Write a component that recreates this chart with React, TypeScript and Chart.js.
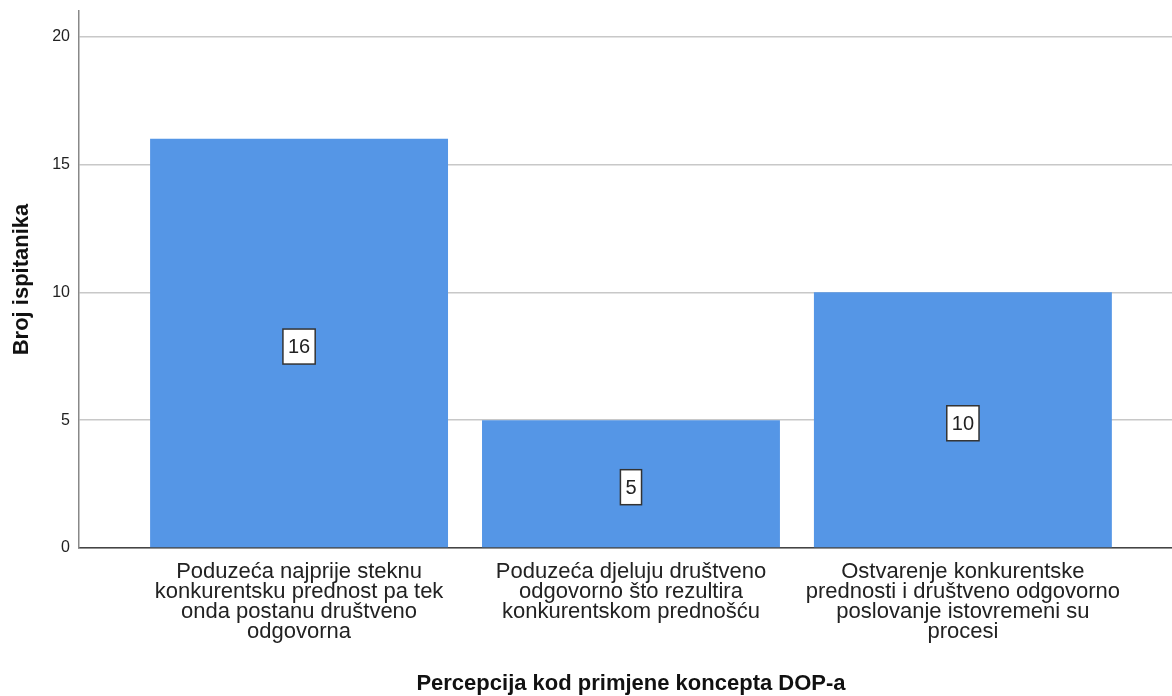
import React, { useEffect, useRef } from "react";
import { Chart, registerables } from "chart.js";

Chart.register(...registerables);

const CATEGORY_LINES: string[][] = [
  ["Poduzeća najprije steknu", "konkurentsku prednost pa tek", "onda postanu društveno", "odgovorna"],
  ["Poduzeća djeluju društveno", "odgovorno što rezultira", "konkurentskom prednošću"],
  ["Ostvarenje konkurentske", "prednosti i društveno odgovorno", "poslovanje istovremeni su", "procesi"],
];
const COUNTS: number[] = [16, 5, 10];
const Y_MAX = 21;
const Y_STEP = 5;
const X_TITLE = "Percepcija kod primjene koncepta DOP-a";
const Y_TITLE = "Broj ispitanika";

const FONT = "'Liberation Sans', Arial, sans-serif";
const BAR_COLOR = "rgb(85,150,230)";

const labelPlugin = {
  id: "valueBoxes",
  afterDatasetsDraw(chart: any) {
    const ctx = chart.ctx;
    const meta = chart.getDatasetMeta(0);
    ctx.save();
    ctx.font = `20px ${FONT}`;
    ctx.textAlign = "center";
    ctx.textBaseline = "middle";
    meta.data.forEach((el: any, i: number) => {
      const text = String(COUNTS[i]);
      const tw = ctx.measureText(text).width;
      const w = tw + 10;
      const h = 35;
      const cx = el.x;
      const cy = (el.y + el.base) / 2 + 3.5;
      ctx.fillStyle = "#ffffff";
      ctx.fillRect(cx - w / 2, cy - h / 2, w, h);
      ctx.strokeStyle = "#333333";
      ctx.lineWidth = 1.5;
      ctx.strokeRect(cx - w / 2, cy - h / 2, w, h);
      ctx.fillStyle = "#222222";
      ctx.fillText(text, cx, cy + 1);
    });
    ctx.restore();
  },
};

const titlesPlugin = {
  id: "axisTitles",
  afterDraw(chart: any) {
    const ctx = chart.ctx;
    const area = chart.chartArea;
    const xs = chart.scales.x;
    ctx.save();
    ctx.fillStyle = "#111111";
    ctx.font = `bold 22px ${FONT}`;
    ctx.textAlign = "center";
    ctx.textBaseline = "middle";
    ctx.fillText(X_TITLE, xs.getPixelForValue(1), 684);
    ctx.translate(22, (area.top + area.bottom) / 2);
    ctx.rotate(-Math.PI / 2);
    ctx.fillText(Y_TITLE, 0, 0);
    ctx.restore();
  },
};

export default function App() {
  const ref = useRef<HTMLCanvasElement | null>(null);
  useEffect(() => {
    if (!ref.current) return;
    const chart = new Chart(ref.current, {
      type: "bar",
      data: {
        datasets: [
          {
            data: COUNTS.map((v, i) => ({ x: i, y: v })),
            backgroundColor: BAR_COLOR,
            borderWidth: 0,
            categoryPercentage: 1,
            barPercentage: 0.8976,
          },
        ],
      },
      options: {
        responsive: false,
        animation: false,
        layout: { padding: { top: 11, left: 0, right: 0, bottom: 0 } },
        plugins: { legend: { display: false }, tooltip: { enabled: false } },
        scales: {
          x: {
            type: "linear",
            offset: false,
            min: -0.663,
            max: 2.63,
            afterFit: (s: any) => {
              s.height = 148;
              s.paddingLeft = 0;
              s.paddingRight = 0;
            },
            afterBuildTicks: (s: any) => {
              s.ticks = CATEGORY_LINES.map((_, i) => ({ value: i }));
            },
            grid: { display: false, drawTicks: false },
            border: { display: true, color: "#444444", width: 1.5 },
            ticks: {
              autoSkip: false,
              maxRotation: 0,
              padding: 14,
              color: "#222222",
              font: { family: FONT, size: 22, lineHeight: "20px" as any },
              callback: (v: any) => CATEGORY_LINES[Math.round(Number(v))] ?? "",
            },
          },
          y: {
            min: 0,
            max: Y_MAX,
            afterFit: (s: any) => {
              s.width = 79;
              s.paddingTop = 0;
              s.paddingBottom = 0;
            },
            afterBuildTicks: (s: any) => {
              const t = [];
              for (let v = 0; v <= Y_MAX; v += Y_STEP) t.push({ value: v });
              s.ticks = t;
            },
            grid: { color: "#c8c8c8", lineWidth: 1.5, drawTicks: false },
            border: { display: true, color: "#888888", width: 1.5 },
            ticks: {
              padding: 9,
              color: "#222222",
              font: { family: FONT, size: 16 },
            },
          },
        },
      },
      plugins: [labelPlugin, titlesPlugin],
    } as any);
    return () => chart.destroy();
  }, []);
  return (
    <div style={{ position: "absolute", left: 0, top: 0, width: 1172, height: 696, background: "#fff" }}>
      <canvas ref={ref} width={1172} height={696} />
    </div>
  );
}
